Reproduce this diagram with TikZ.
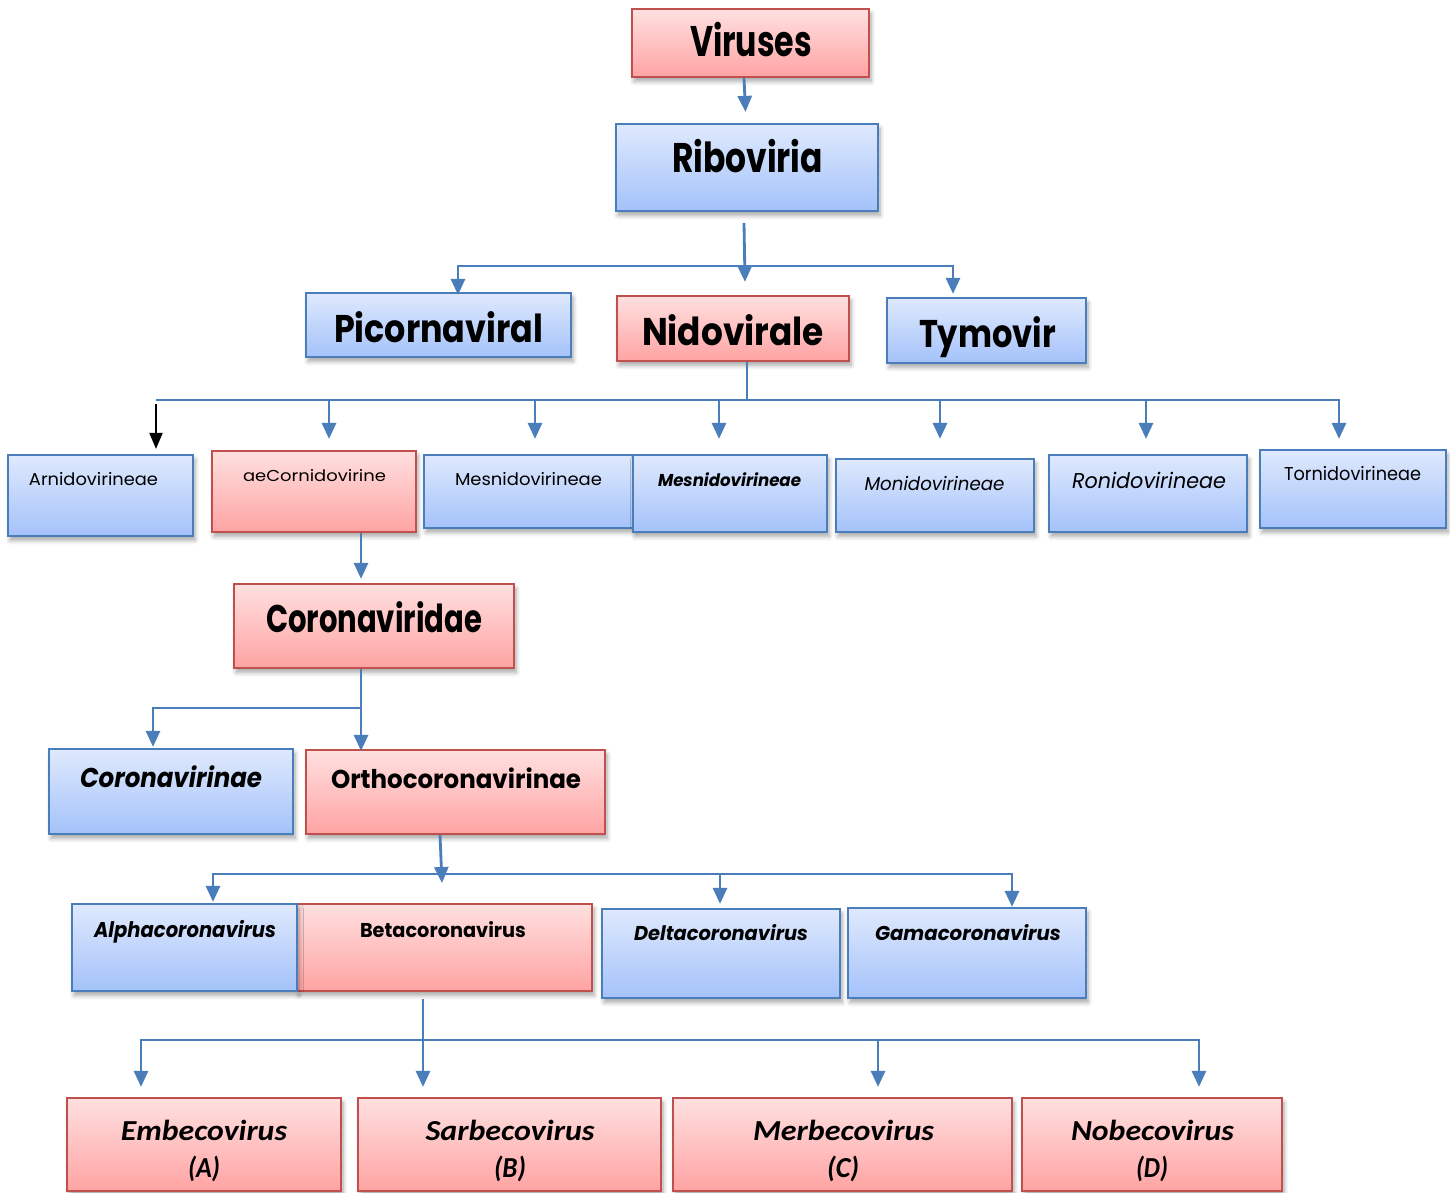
\documentclass[tikz,border=0pt]{standalone}
\usepackage{fontspec}
\usepackage{graphicx}
\newfontfamily\gothic{Poppins}
\newfontfamily\carl{Carlito}
\usetikzlibrary{shadows,shadows.blur,fit,arrows.meta}
\definecolor{bluetop}{HTML}{DFE9FD}
\definecolor{bluebot}{HTML}{A4C2FA}
\definecolor{blueedge}{HTML}{4A7EBB}
\definecolor{redtop}{HTML}{FFE0E0}
\definecolor{redbot}{HTML}{FFA3A3}
\definecolor{rededge}{HTML}{C0504D}
\definecolor{arrowc}{HTML}{4A7EBB}
\tikzset{
  boxbase/.style={inner sep=0pt, line width=1.1pt,
    blur shadow={shadow xshift=1pt, shadow yshift=-2.2pt, shadow blur radius=2.2pt,
      shadow blur steps=6, shadow opacity=35}},
  bbox/.style={boxbase, draw=blueedge, top color=bluetop, bottom color=bluebot},
  rbox/.style={boxbase, draw=rededge, top color=redtop, bottom color=redbot},
  ln/.style={draw=arrowc, line width=1.4pt},
  arr/.style={ln, -{Triangle[length=8pt,width=7pt]}},
  blk/.style={draw=black, line width=1pt, -{Triangle[length=8pt,width=6.5pt]}},
  txt/.style={inner sep=0pt, anchor=base, align=center}
}
% box: name, style, x1, y1, x2, y2
\newcommand\bx[6]{\node[#2, fit={(#3,#4) (#5,#6)}] (#1) {};}
% text: name, x, y, font, width, text
\newcommand\tx[6]{\node[txt, font=#4] (#1) at (#2,#3) {\resizebox{#5}{\height}{#6}};}
\newcommand\gb[1]{\gothic\bfseries\fontsize{#1}{#1}\selectfont}
\newcommand\gr[1]{\gothic\fontsize{#1}{#1}\selectfont}
\newcommand\gi[1]{\gothic\itshape\fontsize{#1}{#1}\selectfont}
\newcommand\gbi[1]{\gothic\bfseries\itshape\fontsize{#1}{#1}\selectfont}
\newcommand\cb{\carl\bfseries\itshape\fontsize{14.5}{14.5}\selectfont}
\begin{document}
\begin{tikzpicture}[x=0.5pt,y=-0.5pt]
\path[use as bounding box] (0,0) rectangle (1450,1193);
% boxes
\bx{vir}{rbox}{632}{9}{869}{77}
\bx{rib}{bbox}{616}{124}{878}{211}
\bx{pic}{bbox}{306}{293}{571}{357}
\bx{nid}{rbox}{617}{296}{849}{361}
\bx{tym}{bbox}{887}{298}{1086}{363}
\bx{arn}{bbox}{8}{455}{193}{536}
\bx{aec}{rbox}{212}{451}{416}{532}
\bx{mes}{bbox}{424}{455}{634}{528}
\bx{mesi}{bbox}{633}{455}{827}{532}
\bx{mon}{bbox}{836}{459}{1034}{532}
\bx{ron}{bbox}{1049}{455}{1247}{532}
\bx{tor}{bbox}{1260}{450}{1446}{528}
\bx{cvd}{rbox}{234}{584}{514}{668}
\bx{cvi}{bbox}{49}{749}{293}{834}
\bx{ort}{rbox}{306}{750}{605}{834}
\bx{bet}{rbox}{297}{904}{592}{991}
\bx{alp}{bbox}{72}{904}{297}{991}
\bx{del}{bbox}{602}{909}{840}{998}
\bx{gam}{bbox}{848}{908}{1086}{998}
\bx{emb}{rbox}{67}{1098}{341}{1191}
\bx{sar}{rbox}{358}{1098}{661}{1191}
\bx{mer}{rbox}{673}{1098}{1012}{1191}
\bx{nob}{rbox}{1022}{1098}{1282}{1191}
% texts
\tx{virt}{751}{57}{\gb{21.4}}{61pt}{Viruses}
\tx{ribt}{747.5}{172}{\gb{20.7}}{75.5pt}{Riboviria}
\tx{pict}{438.5}{342}{\gb{19.3}}{104.5pt}{Picornaviral}
\tx{nidt}{733}{345}{\gb{19.3}}{91pt}{Nidovirale}
\tx{tymt}{987.5}{347}{\gb{19.3}}{68.5pt}{Tymovir}
\tx{arnt}{93.5}{485}{\gr{8.6}}{64.5pt}{Arnidovirineae}
\tx{aect}{314.5}{481}{\gr{7.9}}{71.5pt}{aeCornidovirine}
\tx{mest}{528.5}{485}{\gr{8.6}}{73.5pt}{Mesnidovirineae}
\tx{mesit}{729.5}{486}{\gbi{8.6}}{71.5pt}{Mesnidovirineae}
\tx{mont}{934.5}{490}{\gi{9.3}}{70pt}{Monidovirineae}
\tx{ront}{1149}{488}{\gi{10.7}}{77pt}{Ronidovirineae}
\tx{tort}{1352.5}{480}{\gr{9.3}}{68.5pt}{Tornidovirineae}
\tx{cvdt}{374}{632}{\gb{19.3}}{108pt}{Coronaviridae}
\tx{cvit}{171}{787}{\gbi{13.6}}{91pt}{Coronavirinae}
\tx{ortt}{456}{788}{\gb{12.9}}{125pt}{Orthocoronavirinae}
\tx{alpt}{185}{937}{\gbi{10.7}}{91pt}{Alphacoronavirus}
\tx{bett}{443}{937}{\gb{10}}{83pt}{Betacoronavirus}
\tx{delt}{721}{940}{\gbi{10}}{87pt}{Deltacoronavirus}
\tx{gamt}{968}{940}{\gbi{10}}{93pt}{Gamacoronavirus}
\tx{embt}{204}{1140}{\cb}{83pt}{Embecovirus}
\tx{sart}{510}{1140}{\cb}{84.5pt}{Sarbecovirus}
\tx{mert}{843.5}{1140}{\cb}{90.5pt}{Merbecovirus}
\tx{nobt}{1152.5}{1140}{\cb}{81.5pt}{Nobecovirus}
\tx{embl}{204}{1177}{\cb}{16pt}{(A)}
\tx{sarl}{510}{1177}{\cb}{16pt}{(B)}
\tx{merl}{843}{1177}{\cb}{16pt}{(C)}
\tx{nobl}{1152}{1177}{\cb}{16pt}{(D)}
% bus coordinates
\coordinate (bus1) at (745,266);
\coordinate (bus2) at (747,400);
\coordinate (bus3) at (361,708);
\coordinate (bus4) at (441,874);
\coordinate (o4) at (442,883);
\coordinate (bus5) at (423,1040);
% connectors
\draw[arr] ([xshift=-3.25pt]vir.south) -- ([xshift=-0.75pt,yshift=5.5pt]rib.north);
\draw[arr] ([xshift=-1.5pt,yshift=-5.5pt]rib.south) -- ([xshift=6pt,yshift=6.5pt]nid.north);
\draw[arr] (bus1) -| ([xshift=9.75pt,yshift=-1.5pt]pic.north);
\draw[arr] (bus1) -| ([xshift=-16.75pt,yshift=1.5pt]tym.north);
\draw[ln] ([xshift=7pt]nid.south) -- (bus2);
\draw[ln] (bus2) -- ++(-591,0);
\draw[ln] (bus2) -- ++(592,0);
\draw[arr] (bus2) -| ([xshift=7.5pt,yshift=5.5pt]aec.north);
\draw[arr] (bus2) -| ([xshift=3pt,yshift=7.5pt]mes.north);
\draw[arr] (bus2) -| ([xshift=-5.5pt,yshift=7.5pt]mesi.north);
\draw[arr] (bus2) -| ([xshift=2.5pt,yshift=9.5pt]mon.north);
\draw[arr] (bus2) -| ([xshift=-1pt,yshift=7.5pt]ron.north);
\draw[arr] (bus2) -| ([xshift=-7pt,yshift=5pt]tor.north);
\draw[blk] ([xshift=27.75pt,yshift=25pt]arn.north) -- ([xshift=27.75pt,yshift=2.5pt]arn.north);
\draw[arr] ([xshift=23.5pt]aec.south) -- ([xshift=-6.5pt,yshift=2pt]cvd.north);
\draw[arr] ([xshift=-6.5pt]cvd.south) -- ([xshift=-47.25pt,yshift=-1pt]ort.north);
\draw[arr] (bus3) -| ([xshift=-9pt,yshift=0.5pt]cvi.north);
\draw[arr] ([xshift=-7.75pt]ort.south) -- (o4);
\draw[arr] (bus4) -| ([xshift=14.25pt,yshift=0.5pt]alp.north);
\draw[arr] (bus4) -| ([xshift=-0.5pt,yshift=2pt]del.north);
\draw[arr] (bus4) -| ([xshift=22.5pt]gam.north);
\draw[arr] ([xshift=-10.75pt,yshift=-3.5pt]bet.south) -- ([xshift=-43.25pt,yshift=5pt]sar.north);
\draw[arr] (bus5) -| ([xshift=-31.5pt,yshift=5pt]emb.north);
\draw[arr] (bus5) -| ([xshift=17.75pt,yshift=5pt]mer.north);
\draw[arr] (bus5) -| ([xshift=23.5pt,yshift=5pt]nob.north);
\end{tikzpicture}
\end{document}
